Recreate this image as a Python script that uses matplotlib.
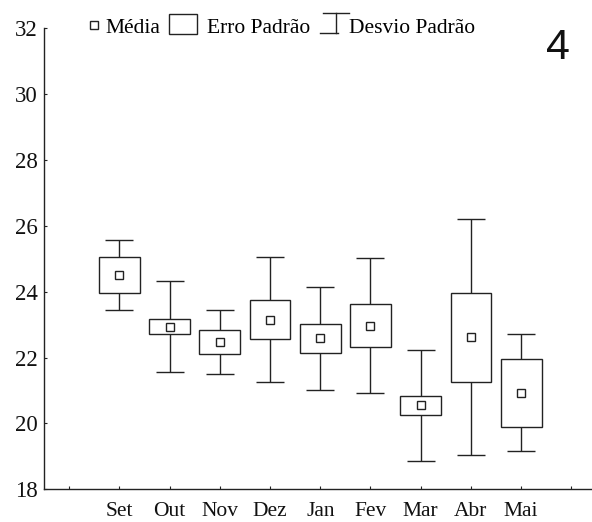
import matplotlib
matplotlib.use("Agg")
from matplotlib import pyplot as plt
from matplotlib.lines import Line2D
from matplotlib.patches import Rectangle

# Monthly means with standard error (box) and standard deviation (whiskers)
months = ["Set", "Out", "Nov", "Dez", "Jan", "Fev", "Mar", "Abr", "Mai"]
means = [24.50, 22.94, 22.47, 23.15, 22.58, 22.97, 20.55, 22.62, 20.93]
std_err = [0.54, 0.23, 0.36, 0.60, 0.43, 0.65, 0.28, 1.35, 1.03]
std_dev = [1.07, 1.38, 0.96, 1.90, 1.56, 2.06, 1.69, 3.58, 1.78]
y_ticks = [18, 20, 22, 24, 26, 28, 30, 32]
panel_label = "4"

INK = "#222222"
W, H = 592, 522

plt.rcParams["font.family"] = ["Liberation Serif", "DejaVu Serif"]

fig = plt.figure(figsize=(W / 100, H / 100), dpi=100)
ax = fig.add_axes([44 / W, 1 - 489.3 / H, 1 - 44 / W, (489.3 - 28.3) / H])

x = list(range(1, len(months) + 1))

ax.errorbar(x, means, yerr=std_dev, fmt="none", ecolor=INK, elinewidth=1.0,
            capsize=10, capthick=1.0, zorder=2)
ax.bar(x, [2 * s for s in std_err], bottom=[m - s for m, s in zip(means, std_err)],
       width=0.81, facecolor="white", edgecolor=INK, linewidth=1.0, zorder=3)
ax.plot(x, means, "s", ms=5.5, mfc="white", mec=INK, mew=1.0, ls="none", zorder=4)

ax.set_xlim(-0.5, 10.41)
ax.set_ylim(18, 32)
ax.set_xticks(range(0, 11))
ax.set_xticklabels([""] + months + [""])
ax.set_yticks(y_ticks)
ax.spines["top"].set_visible(False)
ax.spines["right"].set_visible(False)
for side in ("left", "bottom"):
    ax.spines[side].set_linewidth(1.0)
    ax.spines[side].set_color(INK)
ax.tick_params(axis="both", direction="in", length=2.5, width=0.8, color=INK,
               labelcolor="#111111")
ax.tick_params(axis="y", labelsize=16.5, pad=4.5)
ax.tick_params(axis="x", labelsize=15.5, pad=9)


def fx(px):
    return px / W


def fy(py):
    return 1 - py / H


# legend row drawn in figure pixels
fig.add_artist(Line2D([fx(94)], [fy(25)], marker="s", ms=5.5, mfc="white",
                      mec=INK, mew=1.0, transform=fig.transFigure))
fig.text(fx(105), fy(33), "Média", fontsize=15.5, va="baseline", ha="left")
fig.add_artist(Rectangle((fx(169), fy(34)), fx(197) - fx(169), fy(14) - fy(34),
                         facecolor="white", edgecolor=INK, linewidth=1.0,
                         transform=fig.transFigure))
fig.text(fx(207), fy(33), "Erro Padrão", fontsize=15.5, va="baseline", ha="left")
for xs, ys in (([323, 349], [13, 13]), ([336, 336], [13, 33]), ([320, 338], [33, 33])):
    fig.add_artist(Line2D([fx(v) for v in xs], [fy(v) for v in ys], color=INK,
                          lw=1.0, transform=fig.transFigure))
fig.text(fx(349), fy(33), "Desvio Padrão", fontsize=15.5, va="baseline", ha="left")

fig.text(fx(558), fy(48), panel_label, fontsize=31, family="Liberation Sans",
         ha="center", va="center", color="#111111")

fig.savefig("out.png", dpi=100)
